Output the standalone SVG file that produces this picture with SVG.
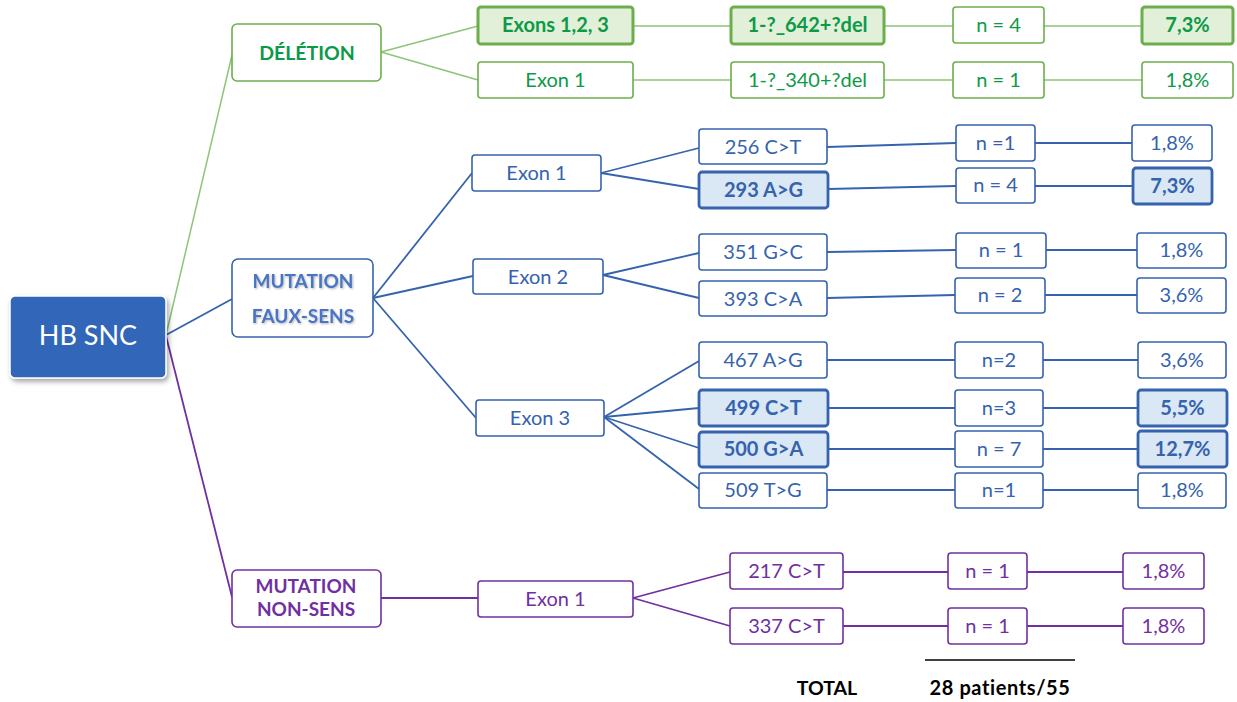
<svg xmlns="http://www.w3.org/2000/svg" width="1237" height="702" viewBox="0 0 1237 702">
<defs>
<filter id="sh" x="-20%" y="-20%" width="150%" height="150%">
<feDropShadow dx="2" dy="3" stdDeviation="2.5" flood-color="#000" flood-opacity="0.35"/>
</filter>
<filter id="ts" x="-10%" y="-20%" width="130%" height="150%">
<feDropShadow dx="1" dy="1" stdDeviation="0.8" flood-color="#000" flood-opacity="0.3"/>
</filter>
</defs>
<style>
text{font-family:Lato,"Liberation Sans",sans-serif;text-anchor:middle;font-size:20px}
.gb{fill:#fff;stroke:#6cae4c;stroke-width:1.6}
.gh{fill:#e2f0d9;stroke:#6cae4c;stroke-width:3}
.bb{fill:#fff;stroke:#3563ad;stroke-width:1.6}
.bh{fill:#dae7f4;stroke:#3563ad;stroke-width:2.8}
.pb{fill:#fff;stroke:#7030a0;stroke-width:1.6}
.gt{fill:#0c9a48}
.bt{fill:#3563ad}
.pt{fill:#7030a0}
.bold{font-weight:bold}
.gl{stroke:#8cc57a;stroke-width:1.5;fill:none}
.bl{stroke:#3563ad;stroke-width:1.8;fill:none}
.pl{stroke:#7030a0;stroke-width:1.8;fill:none}
</style>
<g id="connectors">
<line class="gl" x1="166" y1="335" x2="232" y2="55"/>
<line class="bl" x1="166" y1="335" x2="232" y2="299"/>
<line class="pl" x1="166" y1="336" x2="232" y2="597"/>
<line class="gl" x1="381" y1="52" x2="478" y2="26"/>
<line class="gl" x1="381" y1="52" x2="478" y2="80"/>
<line class="gl" x1="633" y1="26" x2="731" y2="26"/>
<line class="gl" x1="884" y1="26" x2="953" y2="26"/>
<line class="gl" x1="1044" y1="26" x2="1142" y2="26"/>
<line class="gl" x1="633" y1="80" x2="731" y2="80"/>
<line class="gl" x1="884" y1="80" x2="953" y2="80"/>
<line class="gl" x1="1044" y1="80" x2="1142" y2="80"/>
<line class="bl" x1="373" y1="298" x2="472" y2="173"/>
<line class="bl" x1="373" y1="298" x2="473" y2="276"/>
<line class="bl" x1="373" y1="298" x2="476" y2="418"/>
<line class="bl" x1="601" y1="173" x2="699" y2="148"/>
<line class="bl" x1="601" y1="173" x2="699" y2="189"/>
<line class="bl" x1="603" y1="275" x2="699" y2="253"/>
<line class="bl" x1="603" y1="275" x2="699" y2="298"/>
<line class="bl" x1="604" y1="417" x2="699" y2="361"/>
<line class="bl" x1="604" y1="417" x2="699" y2="408"/>
<line class="bl" x1="604" y1="417" x2="699" y2="448"/>
<line class="bl" x1="604" y1="417" x2="699" y2="489"/>
<line class="bl" x1="827" y1="147" x2="956" y2="143"/>
<line class="bl" x1="1035" y1="143" x2="1132" y2="143"/>
<line class="bl" x1="828" y1="189" x2="956" y2="186"/>
<line class="bl" x1="1035" y1="186" x2="1133" y2="186"/>
<line class="bl" x1="827" y1="252" x2="956" y2="250"/>
<line class="bl" x1="1046" y1="250" x2="1137" y2="250"/>
<line class="bl" x1="827" y1="298" x2="955" y2="295"/>
<line class="bl" x1="1045" y1="295" x2="1137" y2="295"/>
<line class="bl" x1="827" y1="360" x2="955" y2="360"/>
<line class="bl" x1="1043" y1="360" x2="1138" y2="360"/>
<line class="bl" x1="828" y1="408" x2="955" y2="408"/>
<line class="bl" x1="1043" y1="408" x2="1138" y2="408"/>
<line class="bl" x1="828" y1="449" x2="955" y2="449"/>
<line class="bl" x1="1043" y1="449" x2="1138" y2="449"/>
<line class="bl" x1="827" y1="490" x2="955" y2="490"/>
<line class="bl" x1="1043" y1="490" x2="1138" y2="490"/>
<line class="pl" x1="381" y1="598" x2="478" y2="598"/>
<line class="pl" x1="633" y1="598" x2="730" y2="572"/>
<line class="pl" x1="633" y1="598" x2="730" y2="626"/>
<line class="pl" x1="843" y1="572" x2="948" y2="572"/>
<line class="pl" x1="1027" y1="572" x2="1123" y2="572"/>
<line class="pl" x1="843" y1="626" x2="948" y2="626"/>
<line class="pl" x1="1027" y1="626" x2="1123" y2="626"/>
</g>
<g id="root">
<rect x="10" y="296" width="156" height="82" rx="5" fill="#3366b8" stroke="#fff" stroke-width="1.5" filter="url(#sh)"/>
<text x="88" y="345" style="font-size:27px;fill:#fff">HB SNC</text>
</g>
<g id="deletion">
<rect class="gb" x="232" y="24" width="149" height="57" rx="5"/>
<text class="gt bold" x="307" y="60" style="font-size:19.5px">DÉLÉTION</text>
</g>
<g id="faux-sens">
<rect class="bb" x="232" y="259" width="141" height="78" rx="6"/>
<text class="bold" x="303" y="288" style="font-size:19px;fill:#4a74c2" filter="url(#ts)">MUTATION</text>
<text class="bold" x="303" y="323" style="font-size:19px;fill:#4a74c2" filter="url(#ts)">FAUX-SENS</text>
</g>
<g id="non-sens">
<rect class="pb" x="232" y="570" width="149" height="57" rx="5"/>
<text class="pt bold" x="306" y="593" style="font-size:19px">MUTATION</text>
<text class="pt bold" x="306" y="616" style="font-size:19px">NON-SENS</text>
</g>
<g id="del-exons123">
<rect class="gh" x="478" y="7" width="155" height="37" rx="3"/>
<text class="gt bold" x="555.5" y="32">Exons 1,2, 3</text>
</g>
<g id="del-642">
<rect class="gh" x="731" y="7" width="153" height="37" rx="3"/>
<text class="gt bold" x="807.5" y="32">1-?_642+?del</text>
</g>
<g id="del-n4">
<rect class="gb" x="953" y="7" width="91" height="36" rx="3"/>
<text class="gt" x="998.5" y="32">n = 4</text>
</g>
<g id="del-73">
<rect class="gh" x="1142" y="7" width="91" height="37" rx="3"/>
<text class="gt bold" x="1187.5" y="32">7,3%</text>
</g>
<g id="del-exon1">
<rect class="gb" x="478" y="62" width="155" height="36" rx="3"/>
<text class="gt" x="555.5" y="87">Exon 1</text>
</g>
<g id="del-340">
<rect class="gb" x="731" y="62" width="153" height="36" rx="3"/>
<text class="gt" x="807.5" y="87">1-?_340+?del</text>
</g>
<g id="del-n1">
<rect class="gb" x="953" y="62" width="91" height="36" rx="3"/>
<text class="gt" x="998.5" y="87">n = 1</text>
</g>
<g id="del-18">
<rect class="gb" x="1142" y="62" width="91" height="36" rx="3"/>
<text class="gt" x="1187.5" y="87">1,8%</text>
</g>
<g id="fs-exon1">
<rect class="bb" x="472" y="155" width="129" height="36" rx="3"/>
<text class="bt" x="536.5" y="180">Exon 1</text>
</g>
<g id="fs-exon2">
<rect class="bb" x="473" y="259" width="130" height="35" rx="3"/>
<text class="bt" x="538" y="284">Exon 2</text>
</g>
<g id="fs-exon3">
<rect class="bb" x="476" y="400" width="128" height="36" rx="3"/>
<text class="bt" x="540" y="425">Exon 3</text>
</g>
<g id="m256">
<rect class="bb" x="699" y="129" width="128" height="35" rx="3"/>
<text class="bt" x="763" y="154">256 C&gt;T</text>
</g>
<g id="m293">
<rect class="bh" x="699" y="172" width="129" height="36" rx="3"/>
<text class="bt bold" x="763.5" y="197">293 A&gt;G</text>
</g>
<g id="m351">
<rect class="bb" x="699" y="234" width="128" height="36" rx="3"/>
<text class="bt" x="763" y="259">351 G&gt;C</text>
</g>
<g id="m393">
<rect class="bb" x="699" y="281" width="128" height="35" rx="3"/>
<text class="bt" x="763" y="306">393 C&gt;A</text>
</g>
<g id="m467">
<rect class="bb" x="699" y="342" width="128" height="36" rx="3"/>
<text class="bt" x="763" y="367">467 A&gt;G</text>
</g>
<g id="m499">
<rect class="bh" x="699" y="390" width="129" height="36" rx="3"/>
<text class="bt bold" x="763.5" y="415">499 C&gt;T</text>
</g>
<g id="m500">
<rect class="bh" x="699" y="432" width="129" height="35" rx="3"/>
<text class="bt bold" x="763.5" y="456">500 G&gt;A</text>
</g>
<g id="m509">
<rect class="bb" x="699" y="473" width="128" height="35" rx="3"/>
<text class="bt" x="763" y="497">509 T&gt;G</text>
</g>
<g id="n256">
<rect class="bb" x="956" y="125" width="79" height="36" rx="3"/>
<text class="bt" x="995.5" y="150">n =1</text>
</g>
<g id="n293">
<rect class="bb" x="956" y="168" width="79" height="35" rx="3"/>
<text class="bt" x="995.5" y="192">n = 4</text>
</g>
<g id="n351">
<rect class="bb" x="956" y="233" width="90" height="35" rx="3"/>
<text class="bt" x="1001" y="257">n = 1</text>
</g>
<g id="n393">
<rect class="bb" x="955" y="278" width="90" height="35" rx="3"/>
<text class="bt" x="1000" y="302">n = 2</text>
</g>
<g id="n467">
<rect class="bb" x="955" y="342" width="88" height="36" rx="3"/>
<text class="bt" x="999" y="367">n=2</text>
</g>
<g id="n499">
<rect class="bb" x="955" y="390" width="88" height="36" rx="3"/>
<text class="bt" x="999" y="415">n=3</text>
</g>
<g id="n500">
<rect class="bb" x="955" y="431" width="88" height="36" rx="3"/>
<text class="bt" x="999" y="456">n = 7</text>
</g>
<g id="n509">
<rect class="bb" x="955" y="473" width="88" height="35" rx="3"/>
<text class="bt" x="999" y="497">n=1</text>
</g>
<g id="p256">
<rect class="bb" x="1132" y="125" width="80" height="36" rx="3"/>
<text class="bt" x="1172" y="150">1,8%</text>
</g>
<g id="p293">
<rect class="bh" x="1133" y="168" width="79" height="36" rx="3"/>
<text class="bt bold" x="1172.5" y="193">7,3%</text>
</g>
<g id="p351">
<rect class="bb" x="1137" y="233" width="89" height="35" rx="3"/>
<text class="bt" x="1181.5" y="257">1,8%</text>
</g>
<g id="p393">
<rect class="bb" x="1137" y="278" width="89" height="35" rx="3"/>
<text class="bt" x="1181.5" y="302">3,6%</text>
</g>
<g id="p467">
<rect class="bb" x="1138" y="342" width="88" height="36" rx="3"/>
<text class="bt" x="1182" y="367">3,6%</text>
</g>
<g id="p499">
<rect class="bh" x="1138" y="390" width="89" height="36" rx="3"/>
<text class="bt bold" x="1182.5" y="415">5,5%</text>
</g>
<g id="p500">
<rect class="bh" x="1138" y="431" width="89" height="36" rx="3"/>
<text class="bt bold" x="1182.5" y="456">12,7%</text>
</g>
<g id="p509">
<rect class="bb" x="1138" y="473" width="88" height="35" rx="3"/>
<text class="bt" x="1182" y="497">1,8%</text>
</g>
<g id="ns-exon1">
<rect class="pb" x="478" y="581" width="155" height="36" rx="3"/>
<text class="pt" x="555.5" y="606">Exon 1</text>
</g>
<g id="m217">
<rect class="pb" x="730" y="553" width="113" height="36" rx="3"/>
<text class="pt" x="786.5" y="578">217 C&gt;T</text>
</g>
<g id="m337">
<rect class="pb" x="730" y="608" width="113" height="36" rx="3"/>
<text class="pt" x="786.5" y="633">337 C&gt;T</text>
</g>
<g id="n217">
<rect class="pb" x="948" y="553" width="79" height="36" rx="3"/>
<text class="pt" x="987.5" y="578">n = 1</text>
</g>
<g id="n337">
<rect class="pb" x="948" y="608" width="79" height="36" rx="3"/>
<text class="pt" x="987.5" y="633">n = 1</text>
</g>
<g id="p217">
<rect class="pb" x="1123" y="553" width="81" height="36" rx="3"/>
<text class="pt" x="1163.5" y="578">1,8%</text>
</g>
<g id="p337">
<rect class="pb" x="1123" y="608" width="81" height="36" rx="3"/>
<text class="pt" x="1163.5" y="633">1,8%</text>
</g>
<g id="total">
<line x1="925" y1="660" x2="1075" y2="660" stroke="#000" stroke-width="1.5"/>
<text class="bold" x="827" y="695" style="font-size:19.5px;fill:#000">TOTAL</text>
<text class="bold" x="1000" y="695" style="font-size:20px;fill:#000;letter-spacing:0.6px">28 patients/55</text>
</g>
</svg>
